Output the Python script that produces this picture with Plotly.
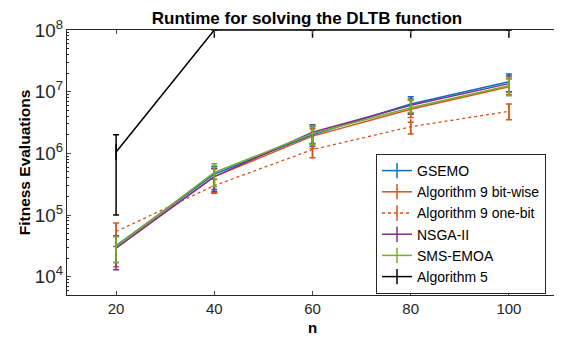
import plotly.graph_objects as go

n_values = [20, 40, 60, 80, 100]

series_names = ["GSEMO", "Algorithm 9 bit-wise", "Algorithm 9 one-bit",
                "NSGA-II", "SMS-EMOA", "Algorithm 5"]

gsemo_mean = [3.2e4, 4.6e5, 2.0e6, 6.3e6, 1.45e7]
gsemo_low = [1.7e4, 2.6e5, 1.3e6, 4.5e6, 1.0e7]
gsemo_high = [4.6e4, 6.2e5, 2.7e6, 8.3e6, 1.94e7]

alg9bw_mean = [3.0e4, 4.2e5, 1.9e6, 5.2e6, 1.2e7]
alg9bw_low = [1.45e4, 2.25e5, 1.2e6, 3.8e6, 9.0e6]
alg9bw_high = [4.5e4, 5.8e5, 2.5e6, 7.2e6, 1.6e7]

alg9ob_mean = [5.4e4, 3.0e5, 1.15e6, 2.7e6, 4.8e6]
alg9ob_low = [3.1e4, 2.3e5, 8.5e5, 2.05e6, 3.5e6]
alg9ob_high = [7.4e4, 3.8e5, 1.4e6, 3.2e6, 6.3e6]

nsga_mean = [2.9e4, 4.2e5, 2.2e6, 6.0e6, 1.35e7]
nsga_low = [1.3e4, 2.4e5, 1.45e6, 4.3e6, 1.0e7]
nsga_high = [4.6e4, 5.6e5, 2.9e6, 7.6e6, 1.8e7]

sms_mean = [3.1e4, 4.9e5, 2.1e6, 5.5e6, 1.25e7]
sms_low = [1.7e4, 2.9e5, 1.4e6, 4.6e6, 8.6e6]
sms_high = [4.5e4, 6.8e5, 2.8e6, 7.4e6, 1.7e7]

alg5_mean = [1.05e6, 1e8, 1e8, 1e8, 1e8]
alg5_low = [1.0e5, 1e8, 1e8, 1e8, 1e8]
alg5_high = [2.0e6, 1e8, 1e8, 1e8, 1e8]

series = [
    (gsemo_mean, gsemo_low, gsemo_high, "#0072BD", "solid"),
    (alg9bw_mean, alg9bw_low, alg9bw_high, "#D95319", "solid"),
    (alg9ob_mean, alg9ob_low, alg9ob_high, "#D95319", "dot"),
    (nsga_mean, nsga_low, nsga_high, "#7E2F8E", "solid"),
    (sms_mean, sms_low, sms_high, "#77AC30", "solid"),
    (alg5_mean, alg5_low, alg5_high, "#000000", "solid"),
]

fig = go.Figure()
for name, (m, lo, hi, col, dash) in zip(series_names, series):
    fig.add_trace(go.Scatter(
        x=n_values, y=m, name=name, mode="lines+markers",
        line=dict(color=col, width=1.5 if dash == "solid" else 1.3, dash=dash),
        marker=dict(symbol="line-ns-open", size=11, color=col,
                    line=dict(width=1.5, color=col)),
        error_y=dict(type="data", symmetric=False,
                     array=[h - v for h, v in zip(hi, m)],
                     arrayminus=[v - l for v, l in zip(m, lo)],
                     color=col, thickness=1.5, width=3),
        cliponaxis=True,
    ))

# The page body has an 8px margin; place the figure so the plot area sits
# where it does in the reference (x 67..558, y 30..295 in window pixels).
OFF = 8
W, H = 562 - OFF, 346 - OFF
L, R, T, B = 67 - OFF, 558 - OFF, 30 - OFF, 295 - OFF

font = "Liberation Sans, Arial, sans-serif"
fig.update_layout(
    width=W, height=H,
    margin=dict(l=L, r=W - R, t=T, b=H - B),
    paper_bgcolor="white", plot_bgcolor="white",
    font=dict(family=font, size=15, color="#262626"),
    title=dict(text="<b>Runtime for solving the DLTB function</b>",
               x=(307 - OFF) / W, xanchor="center", y=1, yanchor="top",
               pad=dict(t=4, b=0),
               font=dict(size=17, color="black")),
    showlegend=True,
    legend=dict(x=(376 - 67) / (558 - 67), y=(295 - 154) / (295 - 30),
                xanchor="left", yanchor="top",
                bgcolor="white", bordercolor="#262626", borderwidth=1,
                font=dict(size=14, color="black"), tracegroupgap=0,
                itemwidth=30),
    xaxis=dict(range=[10, 110], tickvals=n_values, ticks="inside", ticklen=4,
               showline=True, linecolor="#262626", linewidth=1, mirror="ticks",
               showgrid=False, zeroline=False, automargin=False,
               tickfont=dict(size=15),
               title=dict(text="<b>n</b>", font=dict(size=15, color="black"), standoff=6)),
    yaxis=dict(type="log", range=[3.703, 8], dtick=1, exponentformat="power",
               ticks="inside", ticklen=4, showline=True, linecolor="#262626",
               linewidth=1, mirror="ticks", showgrid=False, zeroline=False,
               automargin=False, tickfont=dict(size=15),
               minor=dict(ticks="inside", ticklen=2, tickcolor="#262626", showgrid=False),
               title=dict(text="<b>Fitness Evaluations</b>", font=dict(size=15.5, color="black"), standoff=0)),
)

fig.write_html("out.html")
